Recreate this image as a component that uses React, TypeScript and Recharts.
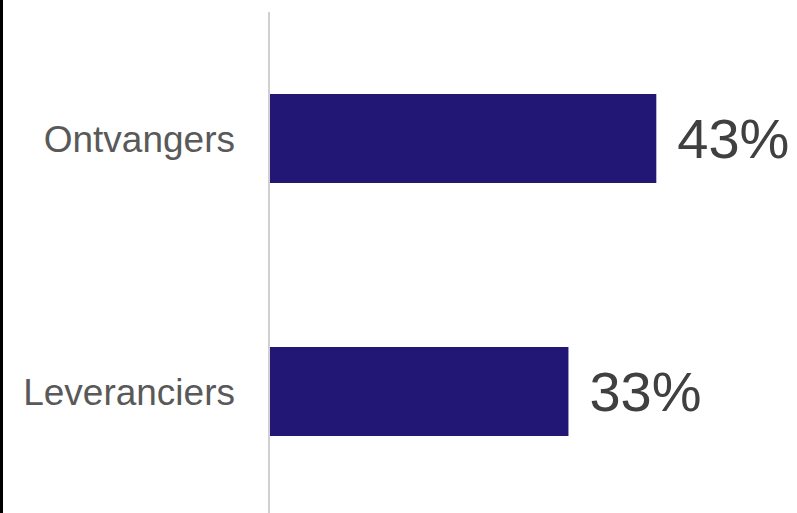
import React from "react";
import { BarChart, Bar, XAxis, YAxis, LabelList } from "recharts";

const categories = ["Ontvangers", "Leveranciers"];
const shares = [43.2, 33.4];

const data = categories.map((name, i) => ({ name, share: shares[i] }));

const BAR_COLOR = "#221775";

export default function App() {
  return (
    <div
      style={{
        position: "absolute",
        left: 0,
        top: 0,
        width: 797,
        height: 513,
        overflow: "hidden",
        background: "#fff",
        fontFamily: '"Liberation Sans", Arial, sans-serif',
      }}
    >
      <div style={{ position: "absolute", left: 0, top: 0, width: 3, height: 513, background: "#000" }} />
      <BarChart
        width={797}
        height={518}
        data={data}
        layout="vertical"
        margin={{ top: 12, right: 8, left: 0, bottom: 0 }}
        barSize={89}
      >
        <XAxis type="number" domain={[0, 58]} hide />
        <YAxis
          type="category"
          dataKey="name"
          width={269}
          axisLine={{ stroke: "#d0d0d0", strokeWidth: 2 }}
          tickLine={false}
          tickMargin={28}
          tick={{ fill: "#595959", fontSize: 37 }}
        />
        <Bar dataKey="share" fill={BAR_COLOR} isAnimationActive={false}>
          <LabelList
            dataKey="share"
            position="right"
            offset={21}
            formatter={(v: any) => `${Math.round(Number(v))}%`}
            style={{ fill: "#404040", fontSize: 56 }}
          />
        </Bar>
      </BarChart>
    </div>
  );
}
